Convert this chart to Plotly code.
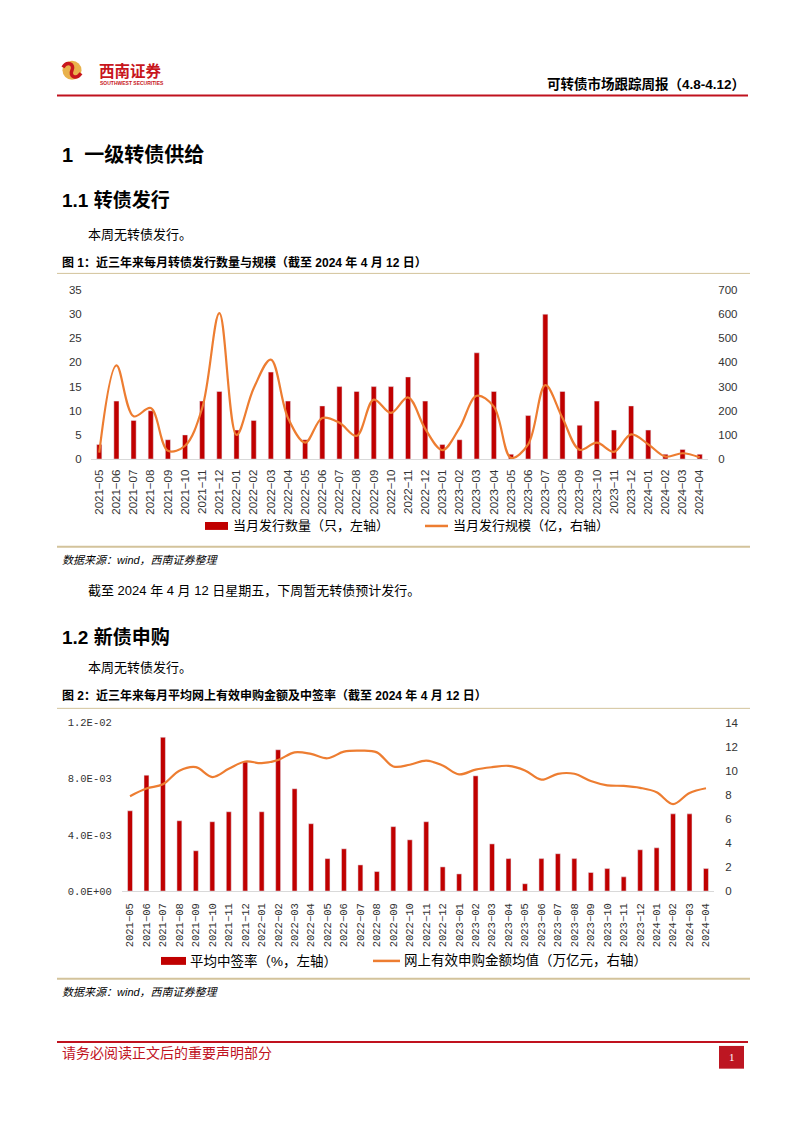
import plotly.graph_objects as go

W, H = 802, 1133

# ---- data ----
months = [
    "2021-05", "2021-06", "2021-07", "2021-08", "2021-09", "2021-10", "2021-11", "2021-12",
    "2022-01", "2022-02", "2022-03", "2022-04", "2022-05", "2022-06", "2022-07", "2022-08",
    "2022-09", "2022-10", "2022-11", "2022-12", "2023-01", "2023-02", "2023-03", "2023-04",
    "2023-05", "2023-06", "2023-07", "2023-08", "2023-09", "2023-10", "2023-11", "2023-12",
    "2024-01", "2024-02", "2024-03", "2024-04",
]
# chart 1
issue_count = [3, 12, 8, 10, 4, 5, 12, 14, 6, 8, 18, 12, 4, 11, 15, 14, 15, 15, 17, 12,
               3, 4, 22, 14, 1, 9, 30, 14, 7, 12, 6, 11, 6, 1, 2, 1]
issue_size = [27, 388, 177, 211, 34, 55, 211, 604, 100, 293, 412, 170, 68, 170, 150, 96,
              246, 191, 255, 125, 37, 129, 262, 217, 5, 61, 306, 170, 38, 68, 30, 102,
              61, 10, 24, 7]
# chart 2
win_rate = [0.00572, 0.00826, 0.01096, 0.00501, 0.00287, 0.00494, 0.00565, 0.00920,
            0.00565, 0.01007, 0.00729, 0.00480, 0.00231, 0.00301, 0.00186, 0.00139,
            0.00459, 0.00365, 0.00494, 0.00172, 0.00122, 0.00821, 0.00336, 0.00231,
            0.00052, 0.00231, 0.00266, 0.00231, 0.00132, 0.00160, 0.00101, 0.00294,
            0.00308, 0.00550, 0.00550, 0.00160]
subscribe_amt = [7.89, 8.52, 8.88, 10.0, 10.3, 9.48, 10.16, 10.77, 10.63, 10.9, 11.53, 11.4,
                 11.04, 11.59, 11.67, 11.53, 10.36, 10.5, 10.85, 10.44, 9.7, 10.1, 10.3, 10.41,
                 10.03, 9.26, 9.75, 9.75, 9.15, 8.79, 8.74, 8.58, 8.22, 7.23, 8.16, 8.55]
rate_ticks = [0, 0.004, 0.008, 0.012]
rate_ticktext = ["0.0E+00", "4.0E-03", "8.0E-03", "1.2E-02"]

RED = "#c00000"
ORANGE = "#ed7d31"
TAN = "#d3c39b"
HDR_RED = "#c0121e"
CJK = "Liberation Sans, Noto Sans CJK SC"


def px(x):
    return x / W


def py(y):
    return 1 - y / H


month_labels = [m.replace("-", "\u2212") for m in months]

fig = go.Figure()

# chart 1
fig.add_trace(go.Bar(x=months, y=issue_count, marker_color=RED, xaxis="x", yaxis="y",
                     showlegend=False))
fig.add_trace(go.Scatter(x=months, y=issue_size, mode="lines", xaxis="x", yaxis="y2",
                         line=dict(color=ORANGE, width=2.2, shape="spline", smoothing=1.0),
                         showlegend=False))
# chart 2
fig.add_trace(go.Bar(x=months, y=win_rate, marker_color=RED, xaxis="x2", yaxis="y3",
                     showlegend=False))
fig.add_trace(go.Scatter(x=months, y=subscribe_amt, mode="lines", xaxis="x2", yaxis="y4",
                         line=dict(color=ORANGE, width=2.2, shape="spline", smoothing=1.0),
                         showlegend=False))

tick_font = dict(family="Liberation Sans", size=11.5, color="#333333")
mono_font = dict(family="Liberation Mono", size=10.5, color="#333333")

fig.update_layout(
    width=W, height=H,
    margin=dict(l=0, r=0, t=0, b=0),
    paper_bgcolor="white", plot_bgcolor="white",
    bargap=0.7,
    xaxis=dict(domain=[px(90.7), px(708.3)], anchor="y", type="category",
               tickvals=months, ticktext=month_labels, tickangle=-90,
               tickfont=tick_font, showline=True, linecolor="#d9d9d9", linewidth=1,
               showgrid=False, ticks="", ticklabelstandoff=5),
    yaxis=dict(domain=[py(458.3), py(287.3)], anchor="x", range=[0, 35], dtick=5,
               tickfont=tick_font, showgrid=False, zeroline=False, ticks="",
               ticklabelstandoff=8),
    yaxis2=dict(overlaying="y", anchor="x", side="right", range=[0, 700], dtick=100,
                tickfont=tick_font, showgrid=False, zeroline=False, ticks="",
                ticklabelstandoff=9),
    xaxis2=dict(domain=[px(121.8), px(714.2)], anchor="y3", type="category",
                tickvals=months, ticktext=month_labels, tickangle=-90,
                tickfont=mono_font, showline=True, linecolor="#d9d9d9", linewidth=1,
                showgrid=False, ticks="", ticklabelstandoff=7),
    yaxis3=dict(domain=[py(895.3), py(725)], anchor="x2", range=[0, 0.012],
                tickvals=rate_ticks, ticktext=rate_ticktext, tickfont=mono_font,
                showgrid=False, zeroline=False, ticks="", ticklabelstandoff=9),
    yaxis4=dict(overlaying="y3", anchor="x2", side="right", range=[0, 14], dtick=2,
                tickfont=tick_font, showgrid=False, zeroline=False, ticks="",
                ticklabelstandoff=10),
)

shapes = []
annotations = []


def hline(x0, x1, y, color, width):
    shapes.append(dict(type="line", xref="paper", yref="paper", x0=px(x0), x1=px(x1),
                       y0=py(y), y1=py(y), line=dict(color=color, width=width)))


def text(x, y, s, size, color="#000000", bold=False, italic=False, anchor="left",
         family=CJK):
    annotations.append(dict(xref="paper", yref="paper", x=px(x), y=py(y), text=s,
                            showarrow=False, xanchor=anchor, yanchor="middle",
                            font=dict(family=family, size=size, color=color,
                                      weight="bold" if bold else "normal",
                                      style="italic" if italic else "normal")))


# header
shapes.append(dict(type="circle", xref="paper", yref="paper", x0=px(62.5), x1=px(81.5),
                   y0=py(74.5), y1=py(55.5), fillcolor="#e9b24c", line=dict(width=0)))
s_path = "M {},{} C {},{} {},{} {},{} C {},{} {},{} {},{}".format(
    px(63), py(62), px(67), py(55), px(75), py(59), px(72), py(65),
    px(69), py(71), px(76), py(75), px(81), py(68))
shapes.append(dict(type="path", xref="paper", yref="paper", path=s_path,
                   line=dict(color="#c8161d", width=3.5)))
text(97, 65, "西南证券", 15.5, color="#c8161d", bold=True, family="Noto Sans CJK SC")
text(98, 77.5, "SOUTHWEST SECURITIES", 5, color="#c8161d", bold=True,
     family="Liberation Sans")
text(747, 79, "可转债市场跟踪周报（4.8-4.12）", 13.5, bold=True, anchor="right")
hline(57, 748, 90.5, HDR_RED, 2)

# section text
text(60, 151, "1  一级转债供给", 20, bold=True)
text(60, 196, "1.1 转债发行", 19, bold=True)
text(86, 231, "本周无转债发行。", 13)
text(60, 259, "图 1：近三年来每月转债发行数量与规模（截至 2024 年 4 月 12 日）", 12, bold=True)
hline(57, 750, 270.5, TAN, 1)

# legend chart 1
shapes.append(dict(type="rect", xref="paper", yref="paper", x0=px(205), x1=px(228),
                   y0=py(530), y1=py(522), fillcolor=RED, line=dict(width=0)))
text(231, 526, "当月发行数量（只，左轴）", 13)
hline(425, 448, 526, ORANGE, 2.5)
text(451, 526, "当月发行规模（亿，右轴）", 13)
hline(57, 750, 547, TAN, 2)
text(60, 560, "数据来源：wind，西南证券整理", 11, italic=True)

text(86, 591, "截至 2024 年 4 月 12 日星期五，下周暂无转债预计发行。", 13)
text(60, 639, "1.2 新债申购", 19, bold=True)
text(86, 669, "本周无转债发行。", 13)
text(60, 698, "图 2：近三年来每月平均网上有效申购金额及中签率（截至 2024 年 4 月 12 日）", 12,
     bold=True)
hline(57, 750, 710.5, TAN, 1)

# legend chart 2
shapes.append(dict(type="rect", xref="paper", yref="paper", x0=px(161), x1=px(186),
                   y0=py(970), y1=py(962), fillcolor=RED, line=dict(width=0)))
text(188, 966, "平均中签率（%，左轴）", 13.5)
hline(373, 400, 966, ORANGE, 2.5)
text(402, 966, "网上有效申购金额均值（万亿元，右轴）", 13.5)
hline(57, 750, 984, TAN, 2)
text(60, 997, "数据来源：wind，西南证券整理", 11, italic=True)

# footer
hline(57, 748, 1048, HDR_RED, 2)
text(60, 1059, "请务必阅读正文后的重要声明部分", 14, color=HDR_RED)
shapes.append(dict(type="rect", xref="paper", yref="paper", x0=px(719), x1=px(744),
                   y0=py(1075), y1=py(1052), fillcolor="#bd1622", line=dict(width=0)))
text(731.5, 1063.5, "1", 11, color="white", anchor="center", family="Liberation Serif")

fig.update_layout(shapes=shapes, annotations=annotations)

# no modebar, and no default page margin so the figure sits at the window origin
fig.write_html("out.html", config={"displayModeBar": False},
               post_script="document.body.style.margin='0';")
